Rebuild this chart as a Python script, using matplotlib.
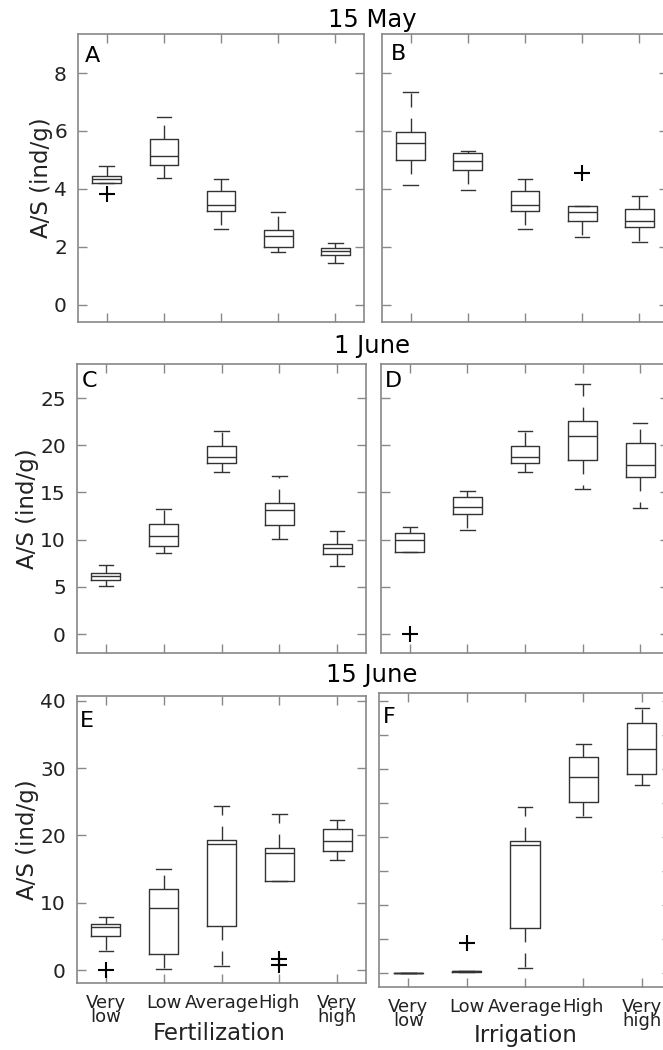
import matplotlib
matplotlib.use('Agg')
import matplotlib.pyplot as plt

levels = ['Very\nlow', 'Low', 'Average', 'High', 'Very\nhigh']
row_titles = ['15 May', '1 June', '15 June']
panel_letters = ['A', 'B', 'C', 'D', 'E', 'F']
x_names = ['Fertilization', 'Irrigation']

# box stats per panel: (whislo, q1, med, q3, whishi), fliers
A_stats = [(4.20, 4.21, 4.35, 4.45, 4.79), (4.36, 4.82, 5.15, 5.73, 6.49),
           (2.61, 3.23, 3.43, 3.93, 4.34), (1.81, 1.99, 2.36, 2.58, 3.21),
           (1.43, 1.70, 1.84, 1.96, 2.12)]
A_fliers = [[3.82], [], [], [], []]

B_stats = [(4.13, 4.98, 5.58, 5.96, 7.33), (3.95, 4.66, 4.96, 5.25, 5.30),
           (2.61, 3.23, 3.43, 3.93, 4.34), (2.34, 2.90, 3.19, 3.41, 3.41),
           (2.16, 2.68, 2.90, 3.29, 3.76)]
B_fliers = [[], [], [], [4.54], []]

C_stats = [(5.08, 5.71, 6.17, 6.52, 7.30), (8.64, 9.31, 10.37, 11.71, 13.26),
           (17.21, 18.12, 18.76, 19.92, 21.54), (10.12, 11.60, 13.12, 13.93, 16.71),
           (7.19, 8.53, 9.17, 9.59, 10.90)]
C_fliers = [[], [], [], [], []]

D_stats = [(8.71, 8.71, 9.98, 10.72, 11.39), (11.07, 12.73, 13.43, 14.49, 15.16),
           (17.21, 18.12, 18.76, 19.92, 21.54), (15.41, 18.44, 21.02, 22.60, 26.45),
           (13.37, 16.61, 17.88, 20.21, 22.36)]
D_fliers = [[0.0], [], [], [], []]

E_stats = [(2.92, 5.15, 6.34, 6.89, 7.93), (0.15, 2.43, 9.17, 12.00, 15.02),
           (0.64, 6.54, 18.74, 19.38, 24.34), (13.23, 13.23, 17.35, 18.19, 23.15),
           (16.36, 17.70, 19.23, 20.90, 22.30)]
E_fliers = [[0.0], [], [], [1.73, 0.74], []]

F_stats = [(-0.05, -0.05, -0.05, -0.05, -0.05), (0.15, 0.15, 0.2, 0.25, 0.25),
           (0.64, 6.58, 18.80, 19.44, 24.44), (22.97, 25.13, 28.80, 31.75, 33.72),
           (27.58, 29.25, 32.88, 36.71, 39.02)]
F_fliers = [[], [4.32], [], [], []]

panels = [(A_stats, A_fliers), (B_stats, B_fliers), (C_stats, C_fliers),
          (D_stats, D_fliers), (E_stats, E_fliers), (F_stats, F_fliers)]

ylims = [(-0.6, 9.35), (-0.6, 9.35), (-2.0, 28.6), (-2.0, 28.6), (-1.9, 40.7), (-2.1, 41.2)]
yticks = [[0, 2, 4, 6, 8], [0, 2, 4, 6, 8], [0, 5, 10, 15, 20, 25], [0, 5, 10, 15, 20, 25],
          [0, 10, 20, 30, 40], list(range(0, 41, 5))]

W, H = 663, 1050
fig = plt.figure(figsize=(W / 100, H / 100), dpi=100)

# axes rectangles in pixels: left, top, right, bottom (right column runs off the image)
rects = [(78, 34, 364, 322), (382, 34, 668, 322),
         (77, 364, 366, 653), (381, 364, 669, 653),
         (77, 696, 366, 983), (379, 693, 671, 987)]
# panel letter offsets from the axes top-left corner, pixels
letter_off = [(7, 12), (9, 10), (5, 7), (4, 7), (3, 15), (4, 14)]

spine_col = '#888888'
line_col = '#333333'
text_col = '#222222'

for i, ((stats, fliers), r) in enumerate(zip(panels, rects)):
    l, t, rr, b = r
    ax = fig.add_axes([l / W, 1 - b / H, (rr - l) / W, (b - t) / H])
    bx = []
    for s, f in zip(stats, fliers):
        bx.append(dict(whislo=s[0], q1=s[1], med=s[2], q3=s[3], whishi=s[4], fliers=f))
    ax.bxp(bx, positions=[1, 2, 3, 4, 5], widths=0.5, showfliers=True,
           boxprops=dict(color=line_col, lw=1),
           medianprops=dict(color=line_col, lw=1),
           whiskerprops=dict(color=line_col, lw=1, linestyle=(0, (10, 8))),
           capprops=dict(color=line_col, lw=1),
           flierprops=dict(marker='+', markeredgecolor='black', markersize=11, markeredgewidth=1.5))
    ax.set_xlim(0.5, 5.5)
    ax.set_ylim(*ylims[i])
    ax.set_yticks(yticks[i])
    ax.set_xticks([1, 2, 3, 4, 5])
    for sp in ax.spines.values():
        sp.set_color(spine_col)
        sp.set_linewidth(1.2)
    ax.tick_params(direction='in', length=6.5, width=1, color=spine_col,
                   top=True, right=True, labelsize=14.5, labelcolor=text_col)
    ax.tick_params(axis='y', pad=8)
    if i % 2 == 1:
        ax.set_yticklabels([])
    else:
        ax.set_ylabel('A/S (ind/g)', fontsize=16.5, color=text_col, labelpad=1)
    if i >= 4:
        ax.set_xticklabels(levels, fontsize=13, linespacing=0.72, color=text_col)
        ax.tick_params(axis='x', pad=8)
    else:
        ax.set_xticklabels([])
    dx, dy = letter_off[i]
    ax.text((l + dx) / W, 1 - (t + dy) / H, panel_letters[i], transform=fig.transFigure,
            fontsize=16, ha='left', va='top')

for title, y in zip(row_titles, [27, 353, 682]):
    fig.text(372 / W, 1 - y / H, title, ha='center', va='baseline', fontsize=17.5)

for name, x, y in zip(x_names, [219, 526], [1040, 1042]):
    fig.text(x / W, 1 - y / H, name, ha='center', va='baseline', fontsize=16.5, color=text_col)

fig.savefig('out.png', dpi=100)
